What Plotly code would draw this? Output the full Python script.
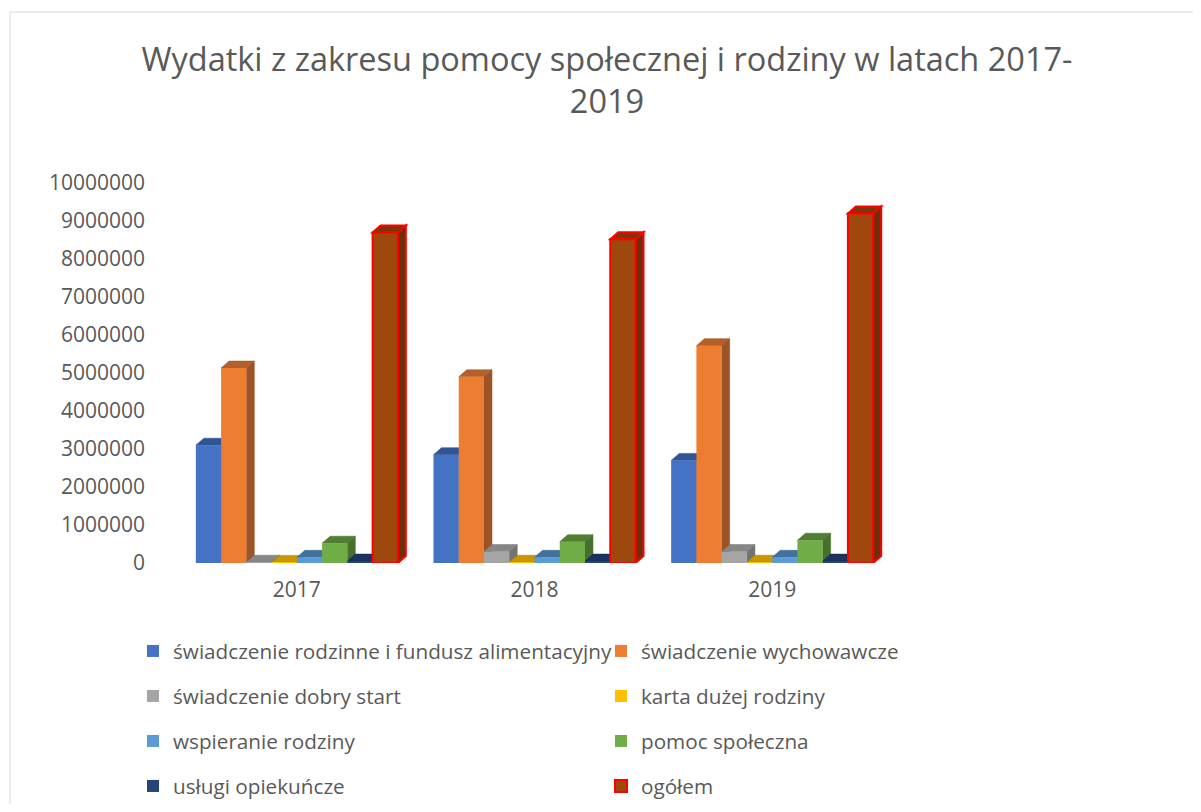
import plotly.graph_objects as go

years = ["2017", "2018", "2019"]
series_names = [
    "świadczenie rodzinne i fundusz alimentacyjny",
    "świadczenie wychowawcze",
    "świadczenie dobry start",
    "karta dużej rodziny",
    "wspieranie rodziny",
    "pomoc społeczna",
    "usługi opiekuńcze",
    "ogółem",
]
swiadczenie_rodzinne = [3100000, 2850000, 2700000]
swiadczenie_wychowawcze = [5130000, 4900000, 5720000]
dobry_start = [20000, 300000, 300000]
karta_duzej_rodziny = [15000, 20000, 20000]
wspieranie_rodziny = [150000, 150000, 150000]
pomoc_spoleczna = [520000, 560000, 600000]
uslugi_opiekuncze = [50000, 50000, 50000]
ogolem = [8700000, 8520000, 9200000]
values = [swiadczenie_rodzinne, swiadczenie_wychowawcze, dobry_start, karta_duzej_rodziny,
          wspieranie_rodziny, pomoc_spoleczna, uslugi_opiekuncze, ogolem]

front_colors = ["#4472C4", "#ED7D31", "#A5A5A5", "#FFC000", "#5B9BD5", "#70AD47", "#264478", "#9E480E"]
top_colors = ["#2F5597", "#B5602A", "#878787", "#C99700", "#41719C", "#507E32", "#1A3260", "#7A3709"]
side_colors = ["#2A4C85", "#9C5325", "#737373", "#A67D00", "#3A6690", "#46702B", "#142848", "#6B300A"]

# page geometry (figure is drawn with an 8px body margin)
OFF = 8
CW, CH = 1201 - 2 * OFF, 812 - 2 * OFF
L, R, T, B = 178, 891, 183, 563      # plot area in page pixels
pw, ph = R - L, B - T
ymax = 10000000

def px_x(p):
    return (p - L) / pw

def px_y(p):
    return (B - p) / ph

def cx(p):
    return (p - OFF) / CW

def cy(p):
    return 1 - (p - OFF) / CH

fig = go.Figure()
n = len(series_names)
bargap = 0.15
bw = (1 - bargap) / n
dx = 8 / (pw / 3)
dy = 7 / ph * ymax
shapes = []
legend_ids = [f"legend{k}" for k in range(2, n + 2)]
for j, name in enumerate(series_names):
    is_total = j == n - 1
    line = dict(color="#FF0000", width=2) if is_total else dict(width=0)
    fig.add_trace(go.Bar(
        x=years, y=values[j], name=name,
        marker=dict(color=front_colors[j], line=line),
        legend=legend_ids[j], showlegend=True,
    ))
    for i, v in enumerate(values[j]):
        xl = i - (1 - bargap) / 2 + j * bw
        xr = xl + bw
        lc = "#FF0000" if is_total else side_colors[j]
        lw = 2 if is_total else 0.5
        side = f"M {xr},0 L {xr+dx},{dy} L {xr+dx},{v+dy} L {xr},{v} Z"
        top = f"M {xl},{v} L {xl+dx},{v+dy} L {xr+dx},{v+dy} L {xr},{v} Z"
        shapes.append(dict(type="path", path=side, xref="x", yref="y", fillcolor=side_colors[j],
                           line=dict(color=lc, width=lw), layer="below"))
        shapes.append(dict(type="path", path=top, xref="x", yref="y", fillcolor=top_colors[j],
                           line=dict(color=lc, width=lw), layer="below"))

# chart border
shapes.append(dict(type="rect", xref="paper", yref="paper",
                   x0=px_x(10), x1=px_x(1230), y0=px_y(840), y1=px_y(12),
                   line=dict(color="#D9D9D9", width=1), fillcolor="rgba(0,0,0,0)", layer="below"))

font_family = "Open Sans, Liberation Sans, sans-serif"
txt = "#595959"
legend_common = dict(orientation="v", xref="container", yref="container",
                     font=dict(family=font_family, size=20.7, color=txt),
                     bgcolor="rgba(0,0,0,0)", itemwidth=30, xanchor="left", yanchor="middle")
rows_y = [651, 696, 741, 786]
cols_x = [133, 601]
legend_layout = {}
for j, lid in enumerate(legend_ids):
    legend_layout[lid] = dict(legend_common, x=cx(cols_x[j % 2]), y=cy(rows_y[j // 2]))

fig.update_layout(
    margin=dict(l=L - OFF, r=CW - (R - OFF), t=T - OFF, b=CH - (B - OFF), pad=0,
                autoexpand=False),
    paper_bgcolor="white", plot_bgcolor="white",
    barmode="group", bargap=bargap, bargroupgap=0,
    title=dict(text="Wydatki z zakresu pomocy społecznej i rodziny w latach 2017-<br>2019",
               font=dict(family=font_family, size=32.5, color=txt),
               x=cx(607), xanchor="center", xref="container",
               y=cy(71), yanchor="top", yref="container"),
    xaxis=dict(type="category", showgrid=False, showline=False, zeroline=False,
               tickfont=dict(family=font_family, size=21, color=txt), ticks="",
               ticklabelstandoff=12),
    yaxis=dict(range=[0, ymax], dtick=1000000, tickformat="d", showgrid=False,
               showline=False, zeroline=False, ticks="",
               tickfont=dict(family=font_family, size=21, color=txt),
               ticklabelstandoff=32),
    shapes=shapes,
    showlegend=True,
    **legend_layout,
)

fig.write_html("out.html")
